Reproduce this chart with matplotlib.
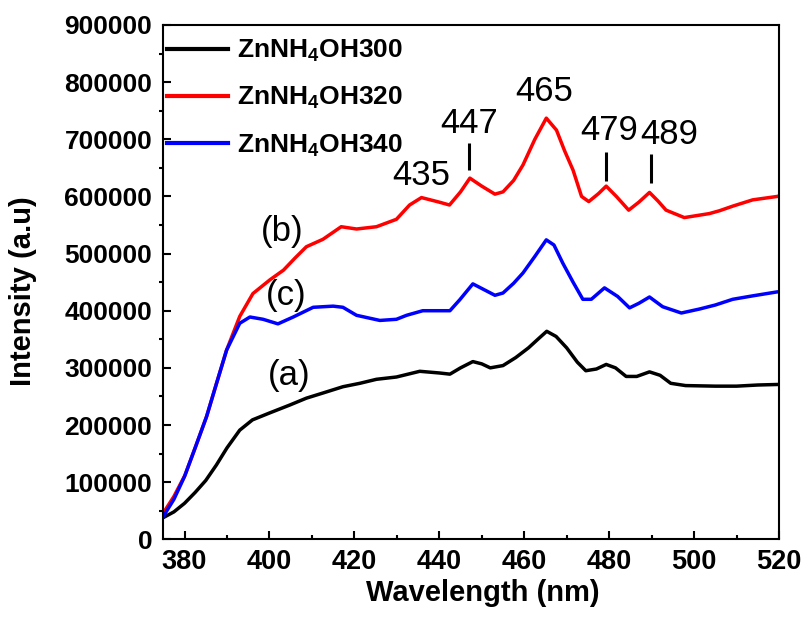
import matplotlib
matplotlib.use("Agg")
import matplotlib.pyplot as plt
from matplotlib.font_manager import FontProperties

plt.rcParams['font.family'] = ['Liberation Sans', 'DejaVu Sans']
plt.rcParams['mathtext.fontset'] = 'custom'
plt.rcParams['mathtext.rm'] = 'Liberation Sans:bold'
plt.rcParams['mathtext.it'] = 'Liberation Sans:bold'
plt.rcParams['mathtext.bf'] = 'Liberation Sans:bold'
plt.rcParams['mathtext.default'] = 'rm'

# ---------------- data ----------------
wl_a = [375, 377.5, 380, 382.5, 385, 387.5, 390, 393, 396, 400, 404.8, 408.7, 412.6,
        417.3, 421.3, 425.2, 429.9, 435.4, 440.1, 442.5, 445, 447.9, 450, 452, 455,
        458, 461, 463.5, 465.3, 467.5, 470, 472.5, 474.5, 477, 479.3, 481.5, 484,
        486.5, 489.5, 492, 494.5, 498, 505, 510, 515, 520]
int_a = [38000, 48000, 63000, 82000, 103000, 130000, 160000, 191000, 209000, 221000,
         235000, 247000, 256000, 267000, 273000, 280000, 284000, 294000, 291000,
         289000, 300000, 311000, 307000, 300000, 304000, 318000, 335000, 352000,
         364000, 355000, 335000, 310000, 295000, 298000, 306000, 300000, 285000,
         285000, 293000, 287000, 273000, 269000, 268000, 268000, 270000, 271000]

wl_b = [375, 377.5, 380.1, 382.5, 385.2, 387.5, 389.9, 393, 396.1, 400.1, 403.3, 406,
        408.7, 412.6, 416.9, 420.5, 425.2, 429.9, 433, 435.8, 440, 442.4, 445, 447.2,
        450, 453.1, 455, 457.5, 459.7, 462.5, 465.2, 467.6, 469.5, 471.5, 473.5,
        475.2, 477.5, 479.3, 481.7, 484.6, 487, 489.5, 491.5, 493.4, 497.7, 503.6,
        506, 509.1, 513.8, 519.6, 520]
int_b = [46000, 75000, 112000, 160000, 215000, 272000, 331000, 390000, 430000, 454000,
         471000, 492000, 512000, 525000, 547000, 543000, 547000, 560000, 585000,
         598000, 590000, 585000, 608000, 632000, 618000, 604000, 608000, 628000,
         655000, 700000, 737000, 716000, 680000, 646000, 600000, 591000, 605000,
         618000, 600000, 576000, 590000, 607000, 592000, 576000, 563000, 570000,
         575000, 583000, 594000, 600000, 601000]

wl_c = [375, 377.5, 380, 382.5, 385.2, 387.5, 389.9, 393, 395.4, 398.5, 402, 405.6,
        410.3, 415, 417.3, 420.5, 426, 429.9, 432.3, 436.1, 442.5, 444.8, 447.9,
        450.5, 453.1, 455, 457.5, 459.7, 462.5, 465.2, 467, 469.1, 471.5, 473.8,
        475.8, 478.9, 482, 484.8, 487, 489.5, 492.6, 497, 501.3, 505, 509.1, 513.8,
        519.6, 520]
int_c = [40000, 70000, 110000, 160000, 215000, 272000, 331000, 378000, 389000, 385000,
         377000, 389000, 406000, 408000, 406000, 392000, 383000, 385000, 392000,
         400000, 400000, 419000, 447000, 437000, 427000, 431000, 448000, 466000,
         495000, 524000, 515000, 483000, 450000, 420000, 420000, 440000, 425000,
         405000, 413000, 424000, 407000, 396000, 403000, 410000, 420000, 426000,
         433000, 433000]

series_labels = ['ZnNH$_4$OH300', 'ZnNH$_4$OH320', 'ZnNH$_4$OH340']
series_colors = ['#000000', '#ff0000', '#0000ff']

peak_labels = ['435', '447', '465', '479', '489']
peak_text_x = [435.8, 447.0, 464.8, 479.9, 494.2]
peak_text_y = [636000, 727000, 784000, 716000, 709000]
marker_x = [447.0, 479.3, 489.9]
marker_y0 = [646000, 627500, 624000]
marker_y1 = [694000, 678000, 674000]

curve_tags = ['(a)', '(b)', '(c)']
tag_x = [404.6, 403.0, 404.0]
tag_y = [286600, 538600, 426600]

# ---------------- figure ----------------
W, H = 803, 635
fig = plt.figure(figsize=(W / 100, H / 100), dpi=100)
ax = fig.add_axes([163.3 / W, (H - 539.3) / H, (779 - 163.3) / W, (539.3 - 25) / H])

for wl, it, lab, col in zip([wl_a, wl_b, wl_c], [int_a, int_b, int_c], series_labels, series_colors):
    ax.plot(wl, it, color=col, lw=2.5, label=lab, solid_joinstyle='round')

for t, x, y in zip(peak_labels, peak_text_x, peak_text_y):
    ax.text(x, y, t, fontsize=25, ha='center', va='center', color='black')
ax.vlines(marker_x, marker_y0, marker_y1, colors='black', lw=2.2)

for t, x, y in zip(curve_tags, tag_x, tag_y):
    ax.text(x, y, t, fontsize=25, ha='center', va='center', color='black')

ax.set_xlim(375, 520)
ax.set_ylim(0, 900000)
ax.set_xticks(range(380, 521, 20))
ax.set_xticks(range(390, 521, 20), minor=True)
ax.set_yticks(range(0, 900001, 100000))
ax.set_yticks(range(50000, 900000, 100000), minor=True)

for s in ax.spines.values():
    s.set_linewidth(1.5)

ax.tick_params(axis='x', which='major', direction='in', length=6, width=1.5, pad=7)
ax.tick_params(axis='x', which='minor', direction='in', length=3, width=1.5)
ax.tick_params(axis='y', which='major', direction='in', length=6, width=1.5, pad=8)
ax.tick_params(axis='y', which='minor', direction='out', length=3, width=1.5)

for lbl in ax.get_xticklabels():
    lbl.set_fontweight('bold')
    lbl.set_fontsize(19.5)
for lbl in ax.get_yticklabels():
    lbl.set_fontweight('bold')
    lbl.set_fontsize(19)

ax.set_xlabel('Wavelength (nm)', fontsize=21, fontweight='bold')
ax.set_ylabel('Intensity (a.u)', fontsize=21, fontweight='bold')
ax.xaxis.set_label_coords(0.519, -0.077)
ax.yaxis.set_label_coords(-0.205, 0.482)

leg = ax.legend(loc='upper left', bbox_to_anchor=(0.006, 0.975), frameon=False,
                prop=FontProperties(weight='bold', size=19),
                handlelength=2.3, handletextpad=0.35, labelspacing=0.8,
                borderpad=0.0, borderaxespad=0.0)
for line in leg.get_lines():
    line.set_linewidth(3.0)

fig.savefig('out.png', dpi=100)
